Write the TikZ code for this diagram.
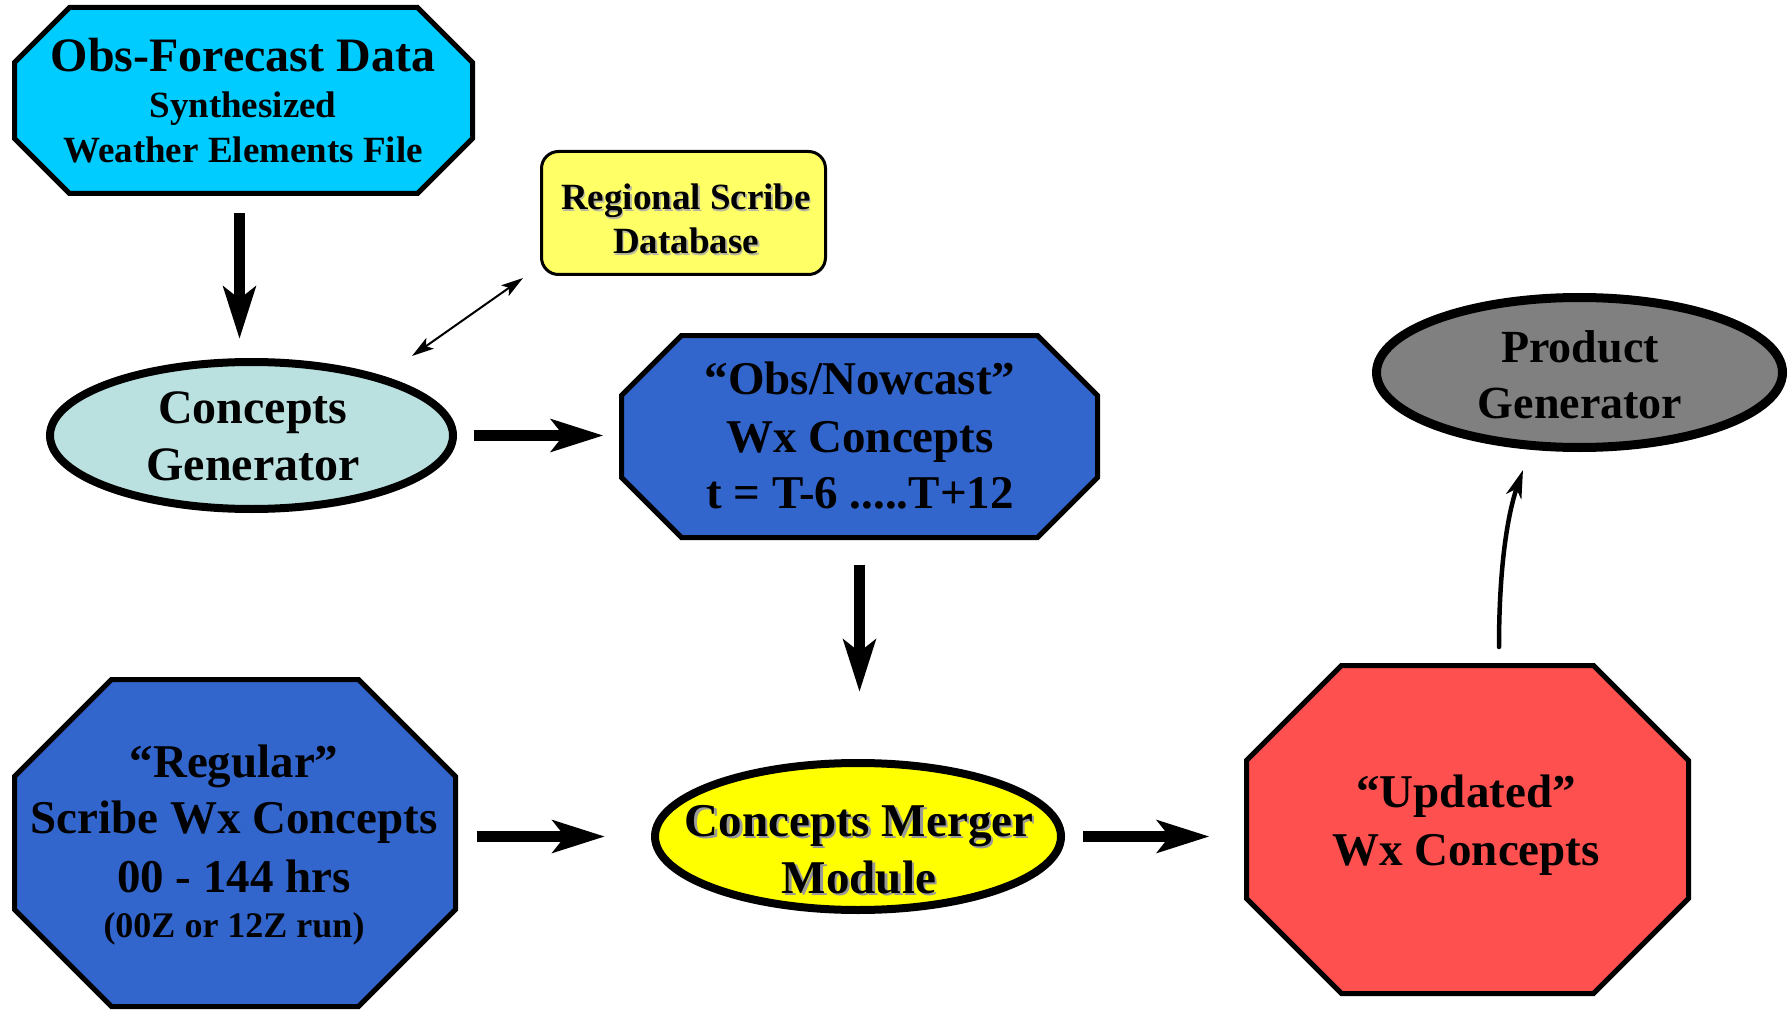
\documentclass[tikz,border=0pt]{standalone}
\usepackage{fontspec}
\setmainfont{Liberation Serif}
\usetikzlibrary{arrows.meta,calc,shapes.geometric}

\definecolor{cyanfill}{HTML}{00CCFF}
\definecolor{cgfill}{HTML}{BAE0E0}
\definecolor{dbfill}{HTML}{FFFF66}
\definecolor{bluefill}{HTML}{3366CC}
\definecolor{greyfill}{HTML}{808080}
\definecolor{yelfill}{HTML}{FFFF00}
\definecolor{redfill}{HTML}{FF5050}
\definecolor{shadowgrey}{HTML}{9A9A9A}
\definecolor{lightshadow}{HTML}{B8B8A0}

\newcommand\shd[3]{\makebox[0pt][l]{\hspace{#2}\raisebox{-#2}{\color{#1}#3}}#3}

\tikzset{
 box/.style={rectangle, draw=none, inner sep=0pt, outer sep=0pt},
 octline/.style={draw=black, line width=5pt, line join=miter},
 oval/.style={ellipse, draw=black, line width=8pt, inner sep=0pt, outer sep=0pt},
 txt/.style={anchor=base, inner sep=0pt, font=\bfseries\fontsize{47}{56}\selectfont},
 txtbig/.style={anchor=base, inner sep=0pt, font=\bfseries\fontsize{48}{57}\selectfont},
 txtsm/.style={anchor=base, inner sep=0pt, font=\bfseries\fontsize{37}{44}\selectfont},
 txtxs/.style={anchor=base, inner sep=0pt, font=\bfseries\fontsize{36}{43}\selectfont},
 flow/.style={line width=11pt, -{Stealth[length=52pt,width=32pt,inset=12pt]}},
 thinboth/.style={line width=2pt, {Stealth[length=22pt,width=13pt,inset=5pt]}-{Stealth[length=22pt,width=13pt,inset=5pt]}},
 curvearrow/.style={line width=4.5pt, -{Stealth[length=28pt,width=16pt,inset=8pt]}, line cap=round},
}

\newcommand\octo[3]{\draw[octline, fill=#3] ([xshift=#2pt]#1.north west) -- ([xshift=-#2pt]#1.north east) -- ([yshift=-#2pt]#1.north east) -- ([yshift=#2pt]#1.south east) -- ([xshift=-#2pt]#1.south east) -- ([xshift=#2pt]#1.south west) -- ([yshift=#2pt]#1.south west) -- ([yshift=-#2pt]#1.north west) -- cycle;}

\begin{document}
\begin{tikzpicture}[x=1pt,y=-1pt]
\useasboundingbox (0,0) rectangle (1792,1011);

% Obs-Forecast Data
\node[box, minimum width=458pt, minimum height=186pt] (ofd) at (243.5,100.5) {};
\octo{ofd}{55}{cyanfill}
\node[txtbig] (ofdt1) at (243,72) {Obs-Forecast Data};
\node[txtsm] (ofdt2) at (243,118) {Synthesized};
\node[txtsm] (ofdt3) at (243,163) {Weather Elements File};

% Regional Scribe Database
\node[box, draw=black, line width=3pt, fill=dbfill, rounded corners=17pt, minimum width=284pt, minimum height=123pt] (rsd) at (683.5,213) {};
\node[txtsm] (rsdt1) at (686,210) {\shd{lightshadow}{1.5pt}{Regional Scribe}};
\node[txtsm] (rsdt2) at (686,254) {\shd{lightshadow}{1.5pt}{Database}};

% Concepts Generator
\node[oval, fill=cgfill, minimum width=403pt, minimum height=147pt] (cg) at (251.5,435.5) {};
\node[txtbig] (cgt1) at (253,423) {Concepts};
\node[txtbig] (cgt2) at (253,480) {Generator};

% Obs/Nowcast
\node[box, minimum width=476pt, minimum height=202pt] (obs) at (859.5,436.5) {};
\octo{obs}{60}{bluefill}
\node[txt] (obst1) at (860,394) {“Obs/Nowcast”};
\node[txt] (obst2) at (860,452) {Wx Concepts};
\node[txt] (obst3) at (860,508) {t = T-6 .....T+12};

% Product Generator
\node[oval, line width=9pt, fill=greyfill, minimum width=406pt, minimum height=150pt] (prod) at (1579.5,372.5) {};
\node[txt, font=\bfseries\fontsize{46}{55}\selectfont] (prodt1) at (1580,362) {Product};
\node[txt, font=\bfseries\fontsize{46}{55}\selectfont] (prodt2) at (1580,418) {Generator};

% Regular
\node[box, minimum width=441pt, minimum height=327pt] (reg) at (235,843) {};
\octo{reg}{97}{bluefill}
\node[txt] (regt1) at (234,777) {“Regular”};
\node[txt] (regt2) at (234,833) {Scribe Wx Concepts};
\node[txt] (regt3) at (234,892) {00 - 144 hrs};
\node[txtxs] (regt4) at (234,937) {(00Z or 12Z run)};

% Concepts Merger Module
\node[oval, fill=yelfill, minimum width=406pt, minimum height=147pt] (merger) at (858,836.5) {};
\node[txt] (mergert1) at (859,836) {\shd{shadowgrey}{2.5pt}{Concepts Merger}};
\node[txt] (mergert2) at (859,893) {\shd{shadowgrey}{2.5pt}{Module}};

% Updated
\node[box, minimum width=442pt, minimum height=328pt] (upd) at (1467.5,829.5) {};
\octo{upd}{95}{redfill}
\node[txt] (updt1) at (1466,807) {“Updated”};
\node[txt] (updt2) at (1466,865) {Wx Concepts};

% connectors
\draw[flow, shorten <=20pt, shorten >=23pt] ([xshift=-4pt]ofd.south) -- ($(ofd.south |- cg.north)+(-4,0)$);
\draw[flow, shorten <=21pt, shorten >=18pt] (cg.east) -- (cg.east -| obs.west);
\draw[flow, shorten <=27pt, shorten >=71pt] (obs.south) -- (obs.south |- merger.north);
\draw[flow, shorten <=21pt, shorten >=50pt] (reg.east |- merger.west) -- (merger.west);
\draw[flow, shorten <=22pt, shorten >=37pt] (merger.east) -- (merger.east -| upd.west);

\coordinate (dbA) at (412,356);
\coordinate (dbB) at (523,278);
\draw[thinboth] (dbA) -- (dbB);

\draw[curvearrow] ($(upd.north)+(31.5,-18.5)$) .. controls (1499,560) and (1509,510) .. ($(prod.south)+(-56.5,22.5)$);
\end{tikzpicture}
\end{document}
